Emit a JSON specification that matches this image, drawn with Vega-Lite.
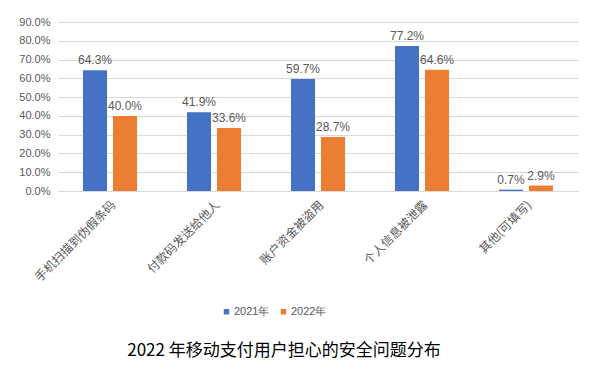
{
  "$schema": "https://vega.github.io/schema/vega-lite/v6.json",
  "width": 520,
  "height": 169,
  "autosize": {"type": "none"},
  "padding": {"left": 58, "top": 22, "right": 22, "bottom": 178},
  "background": "white",
  "title": {
    "text": "2022 年移动支付用户担心的安全问题分布",
    "orient": "bottom",
    "anchor": "middle",
    "offset": 26,
    "dx": -34,
    "font": "Noto Sans CJK SC",
    "fontSize": 17,
    "fontWeight": "normal",
    "color": "#000000"
  },
  "data": {
    "values": [
      {"category": "手机扫描到伪假条码", "year": "2021年", "value": 0.643},
      {"category": "手机扫描到伪假条码", "year": "2022年", "value": 0.400},
      {"category": "付款码发送给他人", "year": "2021年", "value": 0.419},
      {"category": "付款码发送给他人", "year": "2022年", "value": 0.336},
      {"category": "账户资金被盗用", "year": "2021年", "value": 0.597},
      {"category": "账户资金被盗用", "year": "2022年", "value": 0.287},
      {"category": "个人信息被泄露", "year": "2021年", "value": 0.772},
      {"category": "个人信息被泄露", "year": "2022年", "value": 0.646},
      {"category": "其他(可填写)", "year": "2021年", "value": 0.007},
      {"category": "其他(可填写)", "year": "2022年", "value": 0.029}
    ]
  },
  "encoding": {
    "x": {
      "field": "category",
      "type": "nominal",
      "sort": null,
      "title": null,
      "scale": {"paddingInner": 0.48, "paddingOuter": 0.24},
      "axis": {
        "labelAngle": -45,
        "labelFont": "Noto Sans CJK SC",
        "labelFontSize": 12,
        "labelColor": "#595959",
        "labelPadding": 8,
        "ticks": false,
        "domainColor": "#D9D9D9",
        "grid": false
      }
    },
    "xOffset": {
      "field": "year",
      "type": "nominal",
      "scale": {"paddingInner": 0.2, "paddingOuter": 0}
    },
    "y": {
      "field": "value",
      "type": "quantitative",
      "title": null,
      "scale": {"domain": [0, 0.9], "nice": false},
      "axis": {
        "values": [0, 0.1, 0.2, 0.3, 0.4, 0.5, 0.6, 0.7, 0.8, 0.9],
        "format": ".1%",
        "labelFont": "Liberation Sans",
        "labelFontSize": 11,
        "labelColor": "#595959",
        "labelPadding": 8,
        "domain": false,
        "ticks": false,
        "gridColor": "#D9D9D9",
        "gridWidth": 1
      }
    }
  },
  "layer": [
    {
      "mark": {"type": "bar"},
      "encoding": {
        "color": {
          "field": "year",
          "type": "nominal",
          "scale": {"domain": ["2021年", "2022年"], "range": ["#4472C4", "#ED7D31"]},
          "legend": {
            "title": null,
            "orient": "none",
            "direction": "horizontal",
            "legendX": 163,
            "legendY": 284,
            "symbolType": "square",
            "symbolSize": 30,
            "labelOffset": 2,
            "labelFont": "Liberation Sans",
            "labelFontSize": 11,
            "labelColor": "#595959",
            "columnPadding": 8
          }
        }
      }
    },
    {
      "mark": {"type": "text", "dy": -10, "font": "Liberation Sans", "fontSize": 12, "color": "#595959"},
      "encoding": {
        "text": {"field": "value", "type": "quantitative", "format": ".1%"}
      }
    }
  ],
  "config": {
    "view": {"stroke": null}
  }
}
